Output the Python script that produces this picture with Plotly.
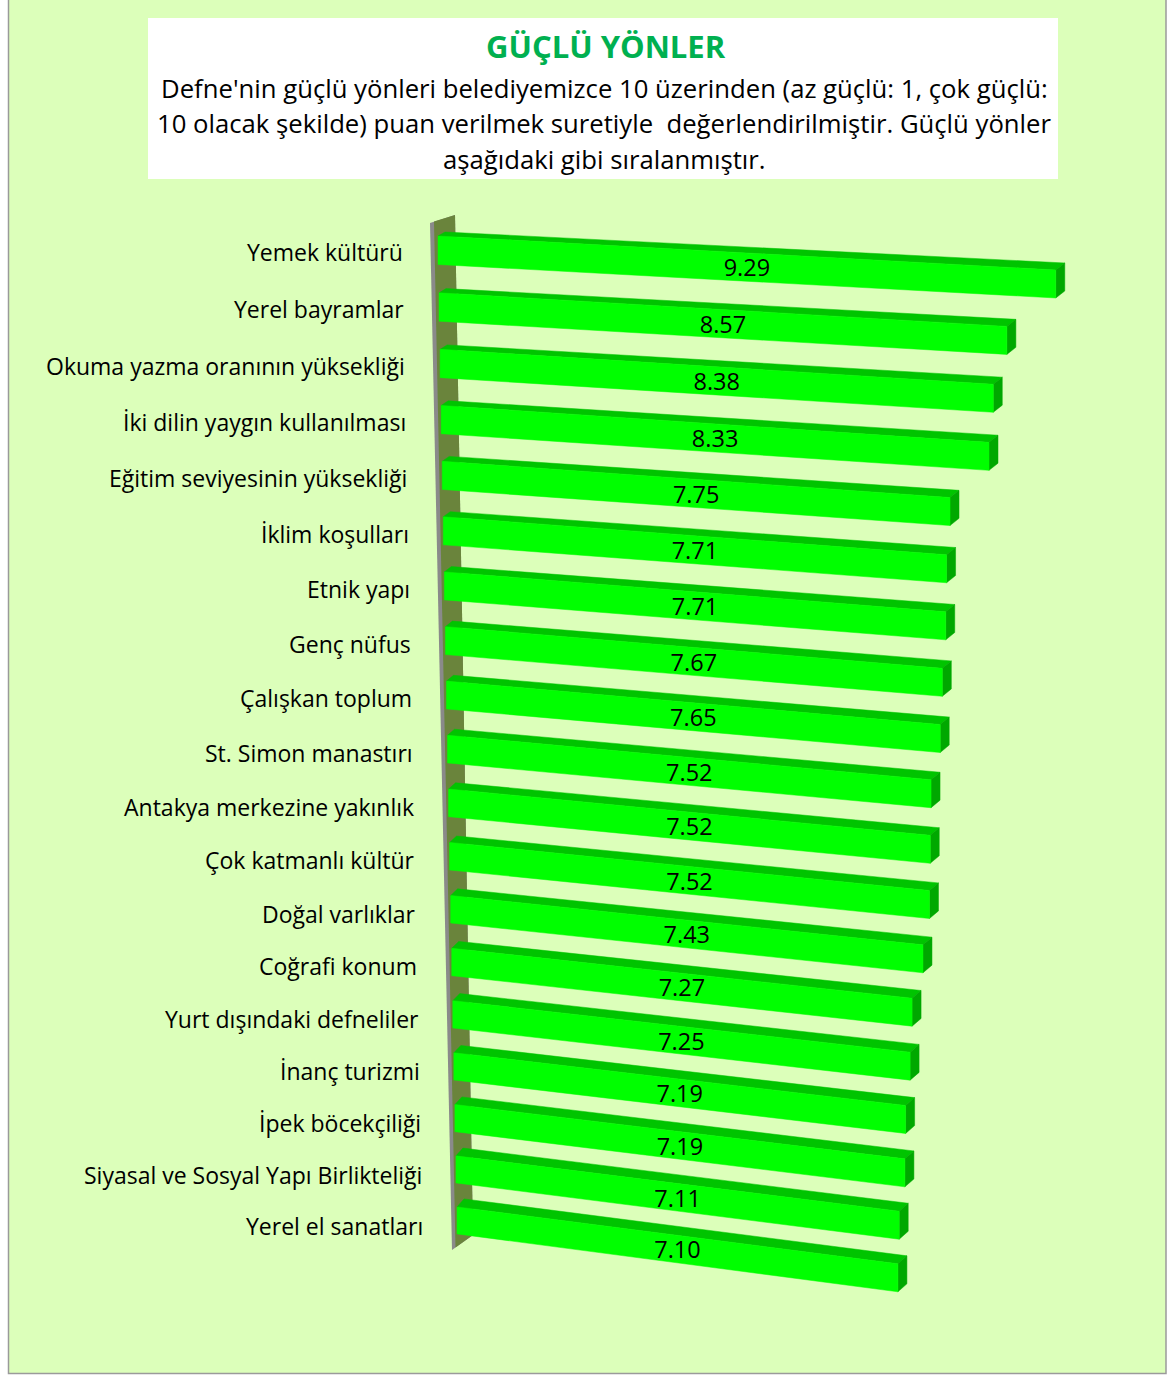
import plotly.graph_objects as go

# ---------------- data ----------------
categories = [
    "Yemek kültürü", "Yerel bayramlar", "Okuma yazma oranının yüksekliği",
    "İki dilin yaygın kullanılması", "Eğitim seviyesinin yüksekliği",
    "İklim koşulları", "Etnik yapı", "Genç nüfus", "Çalışkan toplum",
    "St. Simon manastırı", "Antakya merkezine yakınlık", "Çok katmanlı kültür",
    "Doğal varlıklar", "Coğrafi konum", "Yurt dışındaki defneliler",
    "İnanç turizmi", "İpek böcekçiliği", "Siyasal ve Sosyal Yapı Birlikteliği",
    "Yerel el sanatları",
]
scores = [9.29, 8.57, 8.38, 8.33, 7.75, 7.71, 7.71, 7.67, 7.65, 7.52,
          7.52, 7.52, 7.43, 7.27, 7.25, 7.19, 7.19, 7.11, 7.10]
value_labels = [f"{v:.2f}" for v in scores]

title_text = "GÜÇLÜ YÖNLER"
subtitle_lines = [
    "Defne'nin güçlü yönleri belediyemizce 10 üzerinden (az güçlü: 1, çok güçlü:",
    "10 olacak şekilde) puan verilmek suretiyle  değerlendirilmiştir. Güçlü yönler",
    "aşağıdaki gibi sıralanmıştır.",
]

# ---------------- canvas / axis mapping ----------------
W, H = 1167, 1375
X0, SX = 438.0, 66.5      # value-axis origin (px) and px per unit (front row)
Y0, SY = 236.0, 54.0      # row-axis origin (px) and px per row unit

def to_data(px, py):
    return (px - X0) / SX, (py - Y0) / SY

def to_paper(px, py):
    return px / W, 1 - py / H

# perspective model of the 3-D bar chart
n = len(scores)

def bar_geom(i, v):
    f = i / (n - 1)
    L = 438 + 19 * f
    s = 66.5 - 4.4 * f
    T = 236 + 57 * i - 0.17 * i * i
    m = 0.055 + 0.074 * f
    h = 28.5 - 1.5 * f
    length = s * v
    fl_t = (L, T)
    fl_b = (L, T + h)
    fr_t = (L + length, T + m * length)
    fr_b = (L + length, T + m * length + 28)
    dl = (7, -(4 + 4 * f))
    dr = (9, -(7 + 1 * f))
    back_l = (fl_t[0] + dl[0], fl_t[1] + dl[1])
    back_r = (fr_t[0] + dr[0], fr_t[1] + dr[1])
    back_rb = (fr_b[0] + dr[0], fr_b[1] + dr[1])
    front = [fl_t, fr_t, fr_b, fl_b]
    top = [fl_t, back_l, back_r, fr_t]
    side = [fr_t, back_r, back_rb, fr_b]
    centre = (L + length / 2, T + m * length / 2 + (h + 28) / 4 + 3.5)
    lab = (405 + 20 * f, T + 16 + 3 * f)
    return front, top, side, centre, lab

def poly_xy(polys):
    xs, ys = [], []
    for p in polys:
        for (px, py) in p + [p[0]]:
            x, y = to_data(px, py)
            xs.append(x)
            ys.append(y)
        xs.append(None)
        ys.append(None)
    return xs, ys

fronts, tops, sides, centres, labs = [], [], [], [], []
for i, v in enumerate(scores):
    fr, tp, sd, c, lb = bar_geom(i, v)
    fronts.append(fr); tops.append(tp); sides.append(sd)
    centres.append(c); labs.append(lb)

fig = go.Figure()

for polys, col in [(tops, "#00C400"), (sides, "#00A800"), (fronts, "#00FF00")]:
    xs, ys = poly_xy(polys)
    fig.add_trace(go.Scatter(x=xs, y=ys, mode="lines", fill="toself",
                             fillcolor=col, line=dict(color=col, width=0.5),
                             hoverinfo="skip", showlegend=False))

FONT = "Open Sans"
cx = [to_data(*c)[0] for c in centres]
cy = [to_data(*c)[1] for c in centres]
fig.add_trace(go.Scatter(x=cx, y=cy, mode="text", text=value_labels,
                         textposition="middle center",
                         textfont=dict(family=FONT, size=23.5, color="black"),
                         hoverinfo="skip", showlegend=False))

annotations = []
for cat, (px, py) in zip(categories, labs):
    x, y = to_data(px, py)
    annotations.append(dict(x=x, y=y, xref="x", yref="y", text=cat,
                            showarrow=False, xanchor="right", yanchor="middle",
                            font=dict(family=FONT, size=23, color="black")))

annotations.append(dict(x=606 / W, y=1 - 46 / H, xref="paper", yref="paper",
                        text=f"<b>{title_text}</b>", showarrow=False,
                        xanchor="center", yanchor="middle",
                        font=dict(family=FONT, size=31, color="#00B050")))
for k, line in enumerate(subtitle_lines):
    annotations.append(dict(x=604 / W, y=1 - (88 + 35.5 * k) / H,
                            xref="paper", yref="paper", text=line,
                            showarrow=False, xanchor="center", yanchor="middle",
                            font=dict(family=FONT, size=25.7, color="black")))

def path(points):
    pts = [to_paper(*p) for p in points]
    return "M " + " L ".join(f"{x:.5f},{y:.5f}" for x, y in pts) + " Z"

shapes = [
    dict(type="rect", xref="paper", yref="paper",
         x0=8.5 / W, x1=1166 / W, y0=1 - 1373.5 / H, y1=1 + 2 / H,
         fillcolor="#DCFFBA", line=dict(color="#9A9A9A", width=1.5), layer="below"),
    dict(type="rect", xref="paper", yref="paper",
         x0=148 / W, x1=1058 / W, y0=1 - 179 / H, y1=1 - 18 / H,
         fillcolor="white", line=dict(width=0), layer="below"),
    dict(type="path", xref="paper", yref="paper",
         path=path([(430, 223), (455, 215), (473, 1235), (452, 1250)]),
         fillcolor="#8A8A8A", line=dict(width=0), layer="below"),
    dict(type="path", xref="paper", yref="paper",
         path=path([(434, 221.5), (455, 215), (473, 1235), (455.5, 1247.5)]),
         fillcolor="#6A843C", line=dict(width=0), layer="below"),
]

fig.update_layout(
    width=W, height=H,
    margin=dict(l=0, r=0, t=0, b=0),
    paper_bgcolor="white", plot_bgcolor="rgba(0,0,0,0)",
    xaxis=dict(range=[-X0 / SX, (W - X0) / SX], visible=False, fixedrange=True),
    yaxis=dict(range=[(H - Y0) / SY, -Y0 / SY], visible=False, fixedrange=True),
    annotations=annotations, shapes=shapes,
    hovermode=False, showlegend=False,
)

fig.write_html("out.html",
               config={"displayModeBar": False},
               post_script="document.body.style.margin='0';"
                           "document.body.style.overflow='hidden';")
